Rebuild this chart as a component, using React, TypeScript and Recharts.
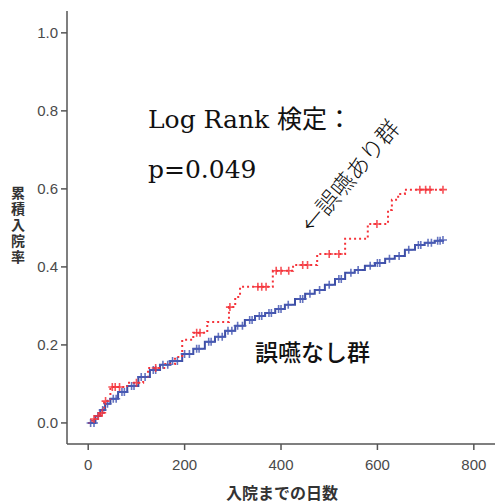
import React from 'react';
import { ComposedChart, Line, Scatter, XAxis, YAxis } from 'recharts';

// 誤嚥あり群 (aspiration group) — cumulative hospitalization rate, step events
const redTimes = [0, 8, 17, 25, 33, 46, 81, 114, 124, 160, 180, 195, 218, 247, 292, 305, 315, 383, 425, 475, 533, 580, 622, 630, 643, 657, 736];
const redRates = [0, 0.010, 0.018, 0.026, 0.056, 0.092, 0.103, 0.118, 0.141, 0.151, 0.169, 0.213, 0.231, 0.259, 0.297, 0.323, 0.349, 0.390, 0.405, 0.433, 0.472, 0.510, 0.546, 0.572, 0.587, 0.598, 0.598];
const redCensorTimes = [12, 21, 29, 36, 50, 56, 65, 100, 140, 225, 232, 294, 352, 360, 369, 390, 400, 416, 445, 455, 500, 520, 599, 688, 700, 709, 736];

// 誤嚥なし群 (no aspiration group)
const blueTimes = [0, 15, 25, 35, 46, 62, 81, 104, 128, 149, 170, 195, 218, 242, 263, 284, 305, 325, 346, 367, 388, 408, 429, 450, 470, 491, 512, 533, 553, 574, 595, 616, 636, 657, 678, 698, 719, 736];
const blueRates = [0, 0.018, 0.033, 0.049, 0.062, 0.079, 0.095, 0.118, 0.136, 0.149, 0.159, 0.177, 0.190, 0.208, 0.221, 0.236, 0.249, 0.264, 0.274, 0.282, 0.292, 0.303, 0.318, 0.331, 0.341, 0.354, 0.369, 0.385, 0.392, 0.403, 0.410, 0.421, 0.428, 0.444, 0.456, 0.462, 0.467, 0.469];
const blueCensorTimes = [5, 12, 20, 30, 40, 52, 58, 70, 75, 90, 95, 110, 118, 135, 140, 155, 165, 175, 185, 200, 210, 225, 230, 250, 255, 270, 278, 290, 298, 310, 320, 335, 340, 355, 360, 375, 380, 395, 400, 415, 440, 445, 460, 480, 500, 520, 525, 545, 560, 585, 600, 605, 625, 645, 665, 685, 690, 705, 712, 725, 730, 736];

const xTicks = [0, 200, 400, 600, 800];
const yTicks = [0, 0.2, 0.4, 0.6, 0.8, 1.0];

const xLabel = '入院までの日数';
const yLabel = '累積入院率';
const testTitle = 'Log Rank 検定：';
const pValueText = 'p=0.049';
const redGroupLabel = '←誤嚥あり群';
const blueGroupLabel = '誤嚥なし群';

const toRows = (ts: number[], rs: number[]) => ts.map((t, i) => ({ t, r: rs[i] }));
const stepAt = (ts: number[], rs: number[], t: number) => {
  let v = rs[0];
  for (let i = 0; i < ts.length; i++) if (ts[i] <= t) v = rs[i];
  return v;
};
const censorRows = (ct: number[], ts: number[], rs: number[]) => ct.map((t) => ({ t, r: stepAt(ts, rs, t) }));

const redData = toRows(redTimes, redRates);
const blueData = toRows(blueTimes, blueRates);
const redCensor = censorRows(redCensorTimes, redTimes, redRates);
const blueCensor = censorRows(blueCensorTimes, blueTimes, blueRates);

const RED = '#f5333a';
const BLUE = '#3e4fa6';

const plus = (color: string) => (props: any) => {
  const { cx, cy } = props;
  if (cx == null || cy == null) return <g />;
  return <path d={`M${cx - 4},${cy}h8M${cx},${cy - 4}v8`} stroke={color} strokeWidth={1.6} strokeOpacity={0.85} fill="none" />;
};

export default function App() {
  const tickStyle = { fontFamily: '"Liberation Sans", Arial, sans-serif', fontSize: 15, fill: '#4a4a4a' };
  return (
    <div style={{ position: 'absolute', left: 0, top: 0, width: 495, height: 503, overflow: 'hidden', background: '#fff' }}>
      <ComposedChart width={500} height={503} margin={{ top: 11, right: 4, bottom: 29, left: 17 }}>
        <XAxis
          dataKey="t"
          type="number"
          domain={[-44, 846]}
          ticks={xTicks}
          allowDataOverflow
          height={30}
          tickSize={6}
          tickMargin={9}
          tick={tickStyle}
          stroke="#555"
          axisLine={{ stroke: '#555', strokeWidth: 1.5 }}
          tickLine={{ stroke: '#555', strokeWidth: 1.5 }}
        />
        <XAxis xAxisId="top" orientation="top" type="number" domain={[-44, 846]} height={0} tick={false} tickLine={false} axisLine={{ stroke: '#666', strokeWidth: 1.5 }} />
        <YAxis
          type="number"
          domain={[-0.054, 1.056]}
          ticks={yTicks}
          allowDataOverflow
          width={50}
          tickSize={6}
          tickMargin={3}
          tick={tickStyle}
          tickFormatter={(v: number) => v.toFixed(1)}
          axisLine={{ stroke: '#555', strokeWidth: 1.5 }}
          tickLine={{ stroke: '#555', strokeWidth: 1.5 }}
        />
        <Line data={blueData} dataKey="r" type="stepAfter" stroke={BLUE} strokeWidth={2} dot={false} isAnimationActive={false} />
        <Scatter data={blueCensor} dataKey="r" shape={plus('#4a5cb5')} isAnimationActive={false} />
        <Line data={redData} dataKey="r" type="stepAfter" stroke={RED} strokeWidth={2} strokeDasharray="2 3" dot={false} isAnimationActive={false} />
        <Scatter data={redCensor} dataKey="r" shape={plus(RED)} isAnimationActive={false} />
      </ComposedChart>
      <svg width={495} height={503} style={{ position: 'absolute', left: 0, top: 0, pointerEvents: 'none' }}>
        <text x={148} y={128} fontFamily='"DejaVu Serif", "Noto Sans CJK JP", serif' fontSize={25} fill="#111">{testTitle}</text>
        <text x={148} y={178} fontFamily='"DejaVu Serif", serif' fontSize={25} fill="#111">{pValueText}</text>
        <text x={349} y={175} transform="rotate(-50 349 175)" textAnchor="middle" dominantBaseline="central" fontFamily='"Noto Sans CJK JP", sans-serif' fontWeight={300} fontSize={23} fill="#111">{redGroupLabel}</text>
        <text x={255} y={361} fontFamily='"Noto Sans CJK JP", sans-serif' fontWeight={500} fontSize={23} fill="#111">{blueGroupLabel}</text>
        <text x={282} y={499} textAnchor="middle" fontFamily='"Noto Sans CJK JP", sans-serif' fontWeight={700} fontSize={16} fill="#333">{xLabel}</text>
        <text x={18} y={186} style={{ writingMode: 'vertical-rl' }} letterSpacing={2} fontFamily='"Noto Sans CJK JP", sans-serif' fontWeight={700} fontSize={14} fill="#333">{yLabel}</text>
      </svg>
    </div>
  );
}
